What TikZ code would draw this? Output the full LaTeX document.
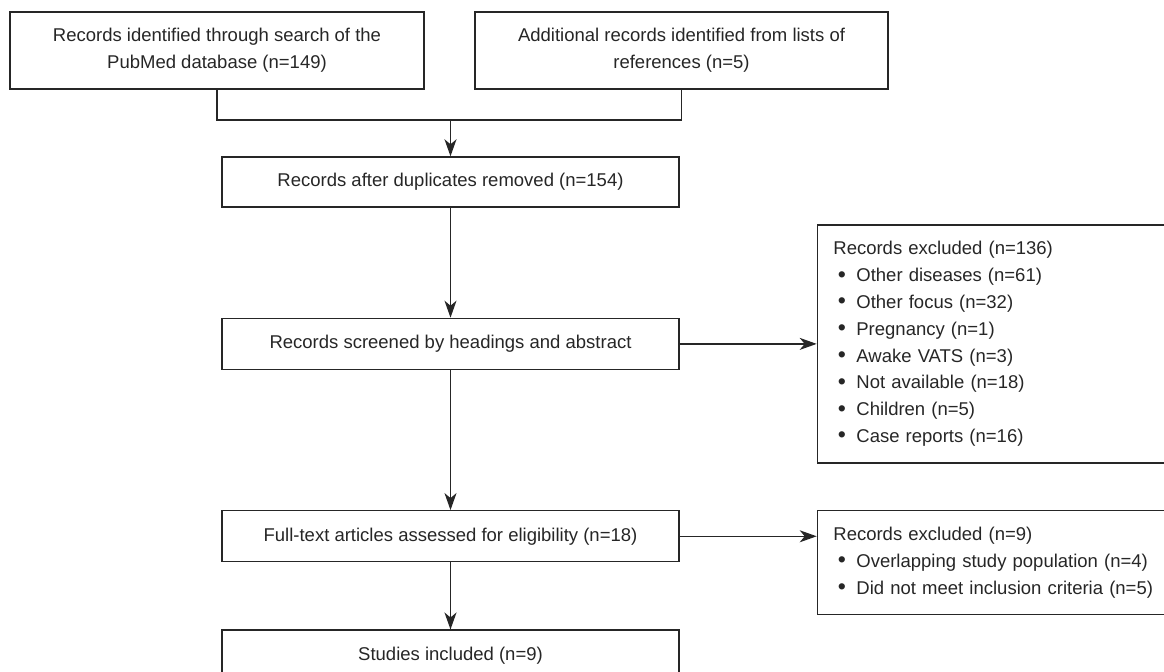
\documentclass[tikz,border=0pt]{standalone}
\usepackage{fontspec}
\setmainfont{Liberation Sans}
\usepackage{tikz}
\usetikzlibrary{arrows.meta, positioning}
\newcommand{\blt}{\makebox[11.5pt][l]{\hspace{2.2pt}\raisebox{-0.2pt}{\scalebox{1.25}{\textbullet}}}}

\begin{document}
\begin{tikzpicture}[x=0.5pt, y=-0.5pt,
    every node/.style={font=\fontsize{9.25}{13.4}\selectfont, text=black!85},
    flowbox/.style={draw=black!85, line width=0.7pt, align=center, inner sep=0pt},
    exclbox/.style={draw=black!85, line width=0.7pt, align=left, text width=166pt, inner xsep=8pt, inner ysep=0pt},
    flow/.style={draw=black!85, line width=0.7pt},
    arr/.style={flow, -{Stealth[length=8.5pt, width=6pt, inset=2.5pt]}}
]
\clip (0,0) rectangle (1164,672);

% Identification (two sources)
\node[flowbox, minimum width=207pt, minimum height=38.5pt] (pubmed) at (217,50.5)
    {Records identified through search of the\\PubMed database (n=149)};
\node[flowbox, minimum width=206.5pt, minimum height=38.5pt] (refs) at (681.5,50.5)
    {Additional records identified from lists of\\references (n=5)};

% Main column
\node[flowbox, minimum width=228.5pt, minimum height=25pt] (dedup) at (450.5,182)
    {Records after duplicates removed (n=154)};
\node[flowbox, minimum width=228.5pt, minimum height=25.5pt, below=55pt of dedup] (screen)
    {Records screened by headings and abstract};
\node[flowbox, minimum width=228.5pt, minimum height=25.5pt, below=70pt of screen] (fulltext)
    {Full-text articles assessed for eligibility (n=18)};
\node[flowbox, minimum width=228.5pt, minimum height=25.5pt, below=33.5pt of fulltext] (included)
    {Studies included (n=9)};

% Exclusions on the right
\node[exclbox, minimum height=119pt, right=68.5pt of screen] (excl1)
    {Records excluded (n=136)\\
     \blt Other diseases (n=61)\\
     \blt Other focus (n=32)\\
     \blt Pregnancy (n=1)\\
     \blt Awake VATS (n=3)\\
     \blt Not available (n=18)\\
     \blt Children (n=5)\\
     \blt Case reports (n=16)};
\node[exclbox, minimum height=52pt, anchor=north west] (excl2) at ([xshift=68.5pt]fulltext.north east)
    {Records excluded (n=9)\\
     \blt Overlapping study population (n=4)\\
     \blt Did not meet inclusion criteria (n=5)};

% Merge of the two sources
\coordinate (merge) at (450.5,120);
\draw[flow] (pubmed.south) |- (merge) -| (refs.south);
\draw[arr] (merge) -- (dedup.north);

% Arrows down and across
\draw[arr] (dedup) -- (screen);
\draw[arr] (screen) -- (fulltext);
\draw[arr] (fulltext) -- (included);
\draw[arr] (screen.east) -- (screen.east -| excl1.west);
\draw[arr] (fulltext.east) -- (fulltext.east -| excl2.west);

\end{tikzpicture}
\end{document}
